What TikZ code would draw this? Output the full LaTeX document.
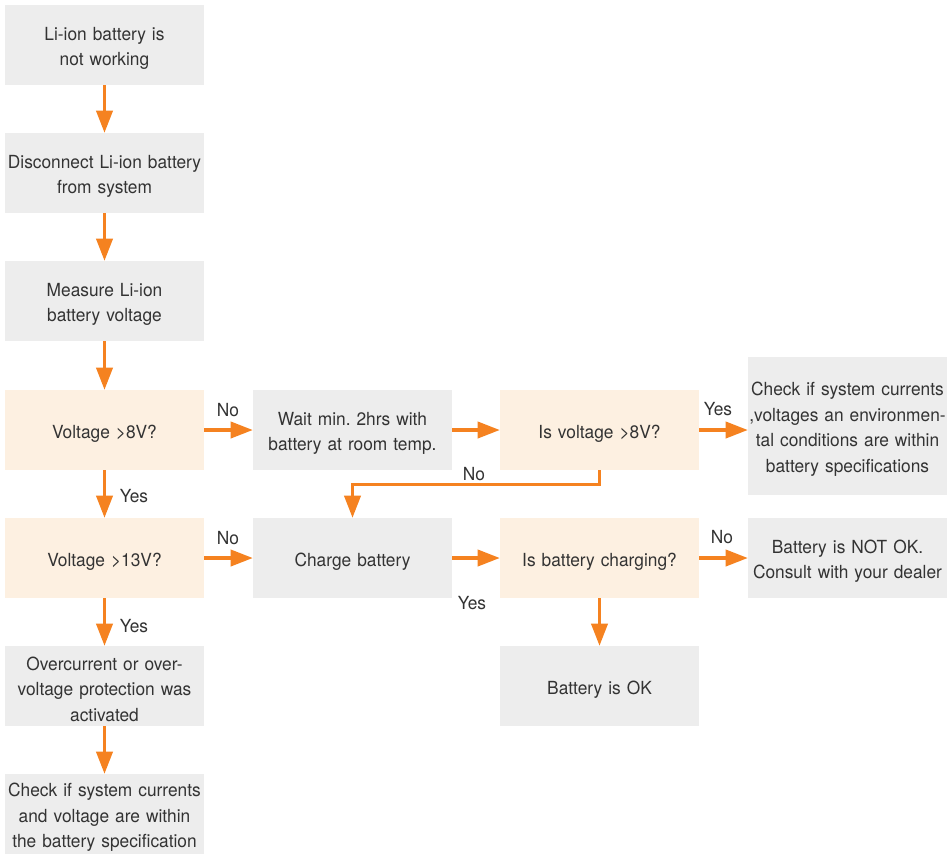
\documentclass[tikz,border=0pt]{standalone}
\usepackage{fontspec}
\setmainfont[FakeStretch=0.96]{TeX Gyre Heros}
\usepackage{tikz}
\usetikzlibrary{arrows.meta}
\definecolor{brandorange}{HTML}{F58220}
\definecolor{boxgray}{HTML}{EDEDED}
\definecolor{boxbeige}{HTML}{FDF0E1}
\definecolor{txtgray}{HTML}{333333}
\frenchspacing

\begin{document}
\begin{tikzpicture}
			[x=.03cm,y=-.03cm,
			block/.style ={rectangle, fill=boxgray, text=txtgray, align=center, inner sep=0pt,
				text width=5.97cm, minimum height=2.4cm, font=\fontsize{15.4}{21.8}\selectfont,
				execute at begin node=\rule{0pt}{17pt}},
			ask/.style ={block, fill=boxbeige},
			arr/.style ={draw=brandorange, line width=2.6pt, -{Triangle[length=19pt,width=14pt]}},
			lbl/.style ={text=txtgray, inner sep=0pt, font=\fontsize{15.4}{18}\selectfont}]
			\useasboundingbox (0,0) rectangle (951,854);
			% left column
			\node[block] (start) at (104.5,45) {Li-ion battery is\\not working};
			\node[block] (disc) at (104.5,173) {Disconnect Li-ion battery\\from system};
			\node[block] (meas) at (104.5,301) {Measure Li-ion\\battery voltage};
			\node[ask] (v8) at (104.5,430) {Voltage >8V?};
			\node[ask] (v13) at (104.5,558) {Voltage >13V?};
			\node[block] (prot) at (104.5,686) {Overcurrent or over-\\voltage protection was\\activated};
			\node[block] (spec) at (104.5,814) {Check if system currents\\and voltage are within\\the battery specification};
			% middle and right
			\node[block] (wait) at (352.5,430) {Wait min. 2hrs with\\battery at room temp.};
			\node[ask] (isv8) at (599.5,430) {Is voltage >8V?};
			\node[block, minimum height=4.14cm] (env) at (847.5,426) {Check if system currents\\,voltages an environmen-\\tal conditions are within\\battery specifications};
			\node[block] (charge) at (352.5,558) {Charge battery};
			\node[ask] (ischg) at (599.5,558) {Is battery charging?};
			\node[block] (notok) at (847.5,558) {Battery is NOT OK.\\Consult with your dealer};
			\node[block] (ok) at (599.5,686) {Battery is OK};

			\draw[arr] (start) -- (disc);
			\draw[arr] (disc) -- (meas);
			\draw[arr] (meas) -- (v8);
			\draw[arr] (v8) -- (v13);
			\draw[arr] (v13) -- (prot);
			\draw[arr] (prot) -- (spec);
			\draw[arr] (v8) -- (wait);
			\draw[arr] (wait) -- (isv8);
			\draw[arr] (isv8) -- (isv8 -| env.west);
			\draw[arr] (isv8.south) -- ++(0,14) -| (charge.north);
			\draw[arr] (v13) -- (charge);
			\draw[arr] (charge) -- (ischg);
			\draw[arr] (ischg) -- (notok);
			\draw[arr] (ischg) -- (ok);

			\node[lbl] (l1) at (228,410) {No};
			\node[lbl] (l2) at (134,496) {Yes};
			\node[lbl] (l3) at (718,409) {Yes};
			\node[lbl] (l4) at (474,474) {No};
			\node[lbl] (l5) at (228,538) {No};
			\node[lbl] (l6) at (472,603) {Yes};
			\node[lbl] (l7) at (722,537) {No};
			\node[lbl] (l8) at (134,626) {Yes};
		\end{tikzpicture}
\end{document}
